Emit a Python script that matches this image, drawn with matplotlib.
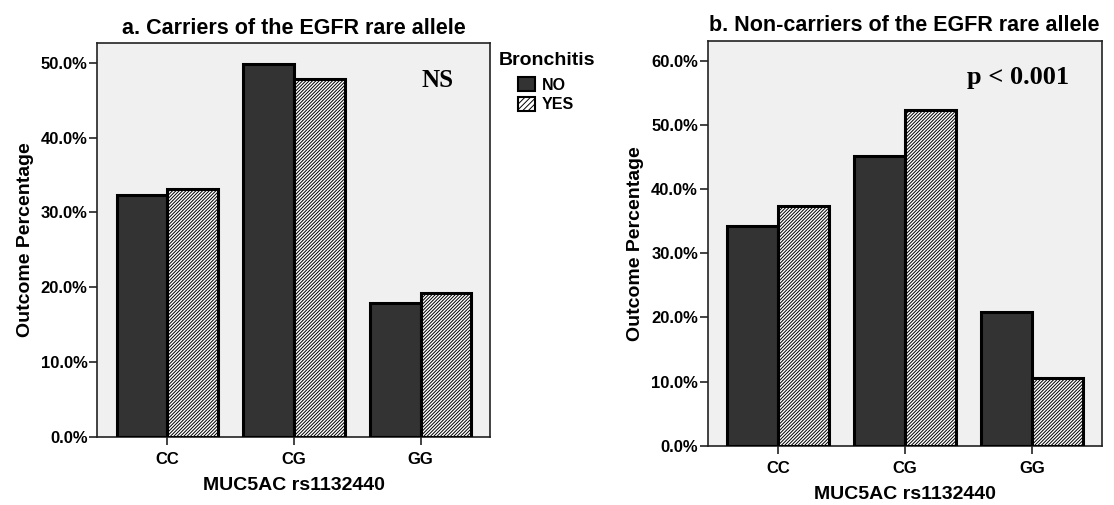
import matplotlib
matplotlib.use('Agg')
import matplotlib.pyplot as plt
from matplotlib.patches import Patch
from matplotlib.ticker import FuncFormatter

plt.rcParams['font.family'] = ['Liberation Sans', 'DejaVu Sans']
plt.rcParams['font.weight'] = 'bold'
plt.rcParams['hatch.linewidth'] = 0.7

genotypes = ['CC', 'CG', 'GG']
groups = ['NO', 'YES']

# percentages
carriers_no = [32.3, 49.9, 17.9]
carriers_yes = [33.1, 47.8, 19.2]
noncarriers_no = [34.2, 45.1, 20.9]
noncarriers_yes = [37.3, 52.3, 10.5]

panels = [
    ('a. Carriers of the EGFR rare allele', carriers_no, carriers_yes,
     [0.0873, 0.1352, 0.3526, 0.779], 52.6, 'NS', (2.133, 47.6), 18),
    ('b. Non-carriers of the EGFR rare allele', noncarriers_no, noncarriers_yes,
     [0.6353, 0.1174, 0.3537, 0.8014], 63.1, 'p < 0.001', (1.889, 57.4), 19),
]

BG = '#f0f0f0'
DARK = '#333333'
W = 0.4

fig = plt.figure(figsize=(11.14, 5.05), dpi=100)

for title, no_vals, yes_vals, rect, ymax, note, note_xy, note_size in panels:
    ax = fig.add_axes(rect)
    ax.set_facecolor(BG)
    x = list(range(len(genotypes)))
    ax.bar([i - W / 2 for i in x], no_vals, W, color=DARK,
           edgecolor='black', linewidth=2.2, zorder=3)
    ax.bar([i + W / 2 for i in x], yes_vals, W, color='white',
           edgecolor='black', linewidth=2.2, hatch='//////////', zorder=3)
    ax.set_xlim(-0.553, 2.547)
    ax.set_ylim(0, ymax)
    ax.set_yticks(range(0, int(ymax) + 1, 10))
    ax.yaxis.set_major_formatter(FuncFormatter(lambda v, p: f'{v:.1f}%'))
    ax.set_xticks(x)
    ax.set_xticklabels(genotypes)
    ax.tick_params(axis='both', labelsize=12, length=6, width=1.2,
                   color='#222222')
    ax.tick_params(axis='y', pad=1)
    ax.tick_params(axis='x', pad=5)
    for s in ax.spines.values():
        s.set_linewidth(1.2)
        s.set_color('#222222')
    ax.set_title(title, fontsize=15.5, fontweight='bold', pad=7)
    ax.set_xlabel('MUC5AC rs1132440', fontsize=14, fontweight='bold',
                  labelpad=7)
    ax.set_ylabel('Outcome Percentage', fontsize=14, fontweight='bold',
                  labelpad=5)
    ax.text(note_xy[0], note_xy[1], note, ha='center', va='center',
            fontsize=note_size, fontweight='bold',
            family=['Liberation Serif', 'DejaVu Serif'])

# legend sits to the right of panel a
fig.text(499 / 1114, 1 - 52 / 505, 'Bronchitis', ha='left', va='top',
         fontsize=14, fontweight='bold')
handles = [Patch(facecolor=DARK, edgecolor='black', linewidth=1.5),
           Patch(facecolor='white', edgecolor='black', linewidth=1.5,
                 hatch='//////')]
fig.legend(handles, groups, loc='upper left',
           bbox_to_anchor=(518 / 1114, 1 - 77 / 505), frameon=False,
           fontsize=11.5, handlelength=1.05, handleheight=1.0,
           handletextpad=0.45, labelspacing=0.25, borderpad=0,
           borderaxespad=0)

fig.savefig('out.png', dpi=100)
